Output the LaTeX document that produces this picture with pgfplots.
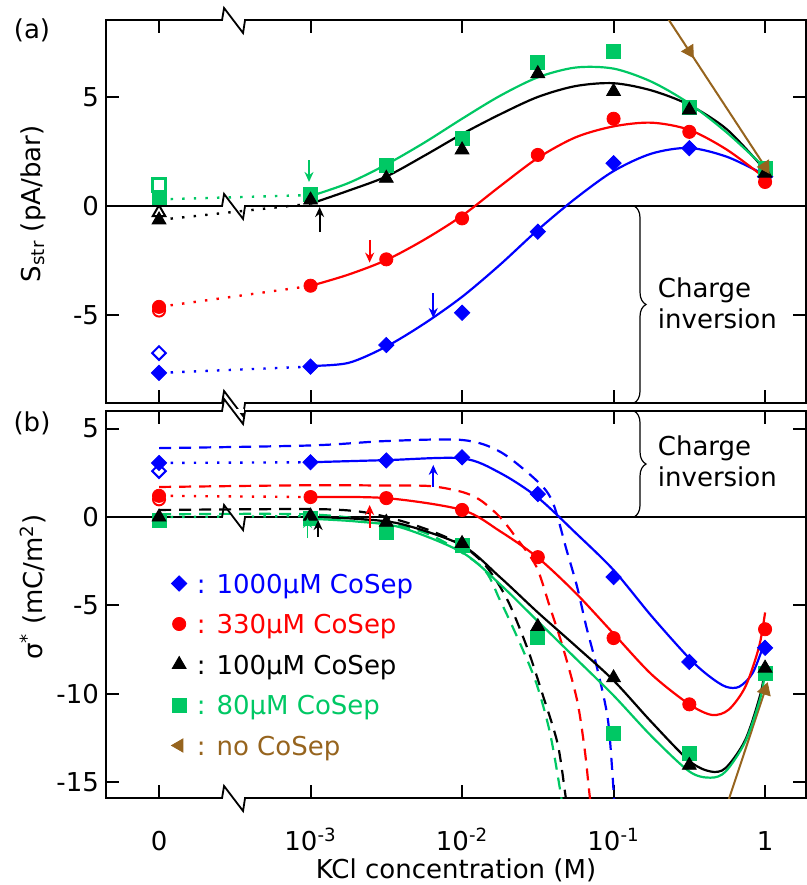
\documentclass[border=0pt]{standalone}
\usepackage{fontspec}
\setmainfont{DejaVu Sans}
\usepackage{pgfplots}
\pgfplotsset{compat=1.18}
\usetikzlibrary{arrows.meta,decorations.pathreplacing}

\definecolor{cb}{RGB}{0,0,255}
\definecolor{cr}{RGB}{255,0,0}
\definecolor{cg}{RGB}{0,200,100}
\definecolor{cn}{RGB}{150,100,30}

\newcommand{\fs}{\fontsize{13}{15.5}\selectfont}

% broken-axis mark between 0 and 10^-3
\newcommand{\brk}[1]{%
  \fill[white] (axis cs:0.416,#1) ++(0.5pt,-1.2pt) rectangle ++(10.5pt,2.4pt);
  \draw[line width=0.9pt] (axis cs:0.416,#1) -- ++(1pt,6pt) -- ++(9.5pt,-12.5pt) -- ++(1pt,6.5pt);}

\tikzset{arr/.style={-{Stealth[length=5pt,width=4.5pt]}, line width=0.9pt}}

\pgfplotsset{
  panel/.style={scale only axis, width=350pt, xmin=-0.35, xmax=4.27,
    xtick={0,1,2,3,4}, tick align=inside, major tick length=6.5pt,
    axis line style={line width=1pt}, every tick/.style={black,line width=1pt},
    tick label style={font=\fs}, label style={font=\fs},
    /pgf/number format/assume math mode=true, clip mode=individual},
  fit/.style={line width=1.1pt, smooth},
  model/.style={line width=1.1pt, smooth, dash pattern=on 6pt off 4pt},
  dots/.style={line width=1.2pt, dash pattern=on 1.2pt off 4.6pt},
  dia/.style={only marks, mark=square*, mark size=2.7pt, mark options={rotate=45}},
  odia/.style={only marks, mark=square*, mark size=2.4pt, mark options={rotate=45, fill=white, line width=1pt}},
  cir/.style={only marks, mark=*, mark size=3.3pt},
  ocir/.style={only marks, mark=*, mark size=3pt, mark options={fill=white, line width=1pt}},
  tri/.style={only marks, mark=triangle*, mark size=4pt},
  otri/.style={only marks, mark=triangle*, mark size=3.6pt, mark options={fill=white, line width=1pt}},
  sq/.style={only marks, mark=square*, mark size=3.5pt},
  osq/.style={only marks, mark=square*, mark size=3.2pt, mark options={fill=white, line width=1.6pt}},
}

\begin{document}
\begin{tikzpicture}[font=\fs]
\useasboundingbox (-53pt,-241pt) rectangle (350.5pt,201.5pt);

% ---------------- (a) ----------------
\begin{axis}[panel, at={(0,0)}, anchor=south west, height=191.5pt,
  ymin=-9.04, ymax=8.53, ytick={-5,0,5}, xticklabels={{},{},{},{},{}},
  ylabel={S\textsubscript{str} (pA/bar)},
  ylabel style={at={(axis description cs:-0.1043,0.52)}, anchor=center}]
\draw[line width=1pt] (axis cs:-0.35,0) -- (axis cs:4.27,0);

\addplot[cn, line width=1pt] coordinates {(3,12.4) (3.5,7.1) (4,1.8)};

\addplot[cb, fit] coordinates {(1,-7.34) (1.25,-7.2) (1.5,-6.45) (1.75,-5.4) (2,-4.17) (2.25,-2.7) (2.5,-1.1) (2.75,0.35) (3,1.6) (3.25,2.4) (3.5,2.66) (3.75,2.25) (4,1.42)};
\addplot[cr, fit] coordinates {(1,-3.67) (1.25,-3.15) (1.5,-2.48) (1.75,-1.55) (2,-0.45) (2.25,0.9) (2.5,2.2) (2.75,3.15) (3,3.65) (3.25,3.82) (3.5,3.49) (3.75,2.57) (4,1.28)};
\addplot[black, fit] coordinates {(1,0.1) (1.25,0.7) (1.5,1.35) (1.75,2.3) (2,3.3) (2.25,4.2) (2.5,5.0) (2.75,5.5) (3,5.63) (3.25,5.3) (3.5,4.63) (3.75,3.5) (4,1.65)};
\addplot[cg, fit] coordinates {(1,0.45) (1.25,1.05) (1.5,1.9) (1.75,2.9) (2,4.0) (2.25,5.05) (2.5,5.9) (2.75,6.35) (3,6.3) (3.25,5.7) (3.5,4.7) (3.75,3.35) (4,1.75)};

\addplot[cb, dots] coordinates {(0,-7.66) (1,-7.37)};
\addplot[cr, dots] coordinates {(0,-4.63) (1,-3.67)};
\addplot[black, dots] coordinates {(0,-0.64) (1,0.1)};
\addplot[cg, dots] coordinates {(0,0.3) (1,0.5)};

\addplot[cb, odia] coordinates {(0,-6.75)};
\addplot[cr, ocir] coordinates {(0,-4.8)};
\addplot[cg, osq] coordinates {(0,0.96)};
\addplot[black, otri] coordinates {(0,-0.3)};

\addplot[cb, dia] coordinates {(0,-7.66) (1,-7.37) (1.5,-6.38) (2,-4.9) (2.5,-1.18) (3,1.96) (3.5,2.65) (4,1.35)};
\addplot[cr, cir] coordinates {(0,-4.63) (1,-3.66) (1.5,-2.45) (2,-0.57) (2.5,2.34) (3,4.0) (3.5,3.4) (4,1.1)};
\addplot[cg, sq] coordinates {(0,0.37) (1,0.55) (1.5,1.88) (2,3.1) (2.5,6.6) (3,7.07) (3.5,4.5) (4,1.7)};
\addplot[black, tri] coordinates {(0,-0.64) (1,0.27) (1.5,1.27) (2,2.57) (2.5,6.07) (3,5.25) (3.5,4.4) (4,1.5)};
\addplot[cn, only marks, mark=triangle*, mark size=3.8pt, mark options={rotate=-148}] coordinates {(3.5,7.1) (4,1.8)};

\draw[arr, cg] (axis cs:0.99,2.1) -- (axis cs:0.99,1.1);
\draw[arr, black] (axis cs:1.06,-1.2) -- (axis cs:1.06,-0.05);
\draw[arr, cr] (axis cs:1.39,-1.56) -- (axis cs:1.39,-2.6);
\draw[arr, cb] (axis cs:1.81,-4.0) -- (axis cs:1.81,-5.14);

\draw[decorate, decoration={brace, amplitude=6pt}, line width=0.6pt] (axis cs:3.135,0) -- (axis cs:3.135,-9.04);
\node[anchor=base west, inner sep=0pt] at (axis cs:3.29,-4.22) {Charge};
\node[anchor=base west, inner sep=0pt] at (axis cs:3.29,-5.6) {inversion};

\brk{8.53}
\brk{0}
\brk{-9.04}
\end{axis}

% ---------------- (b) ----------------
\begin{axis}[panel, at={(0,-4pt)}, anchor=north west, height=193.5pt,
  ymin=-15.9, ymax=6.0, ytick={-15,-10,-5,0,5},
  xticklabels={0,10\textsuperscript{-3},10\textsuperscript{-2},10\textsuperscript{-1},1},
  xticklabel style={anchor=base, yshift=-26pt},
  xlabel={KCl concentration (M)},
  xlabel style={at={(axis description cs:0.5,0)}, anchor=base, yshift=-40pt},
  ylabel={σ\textsuperscript{*} (mC/m\textsuperscript{2})},
  ylabel style={at={(axis description cs:-0.1043,0.545)}, anchor=center},
  legend style={at={(axis cs:0.08,-3.15)}, anchor=north west, draw=none, fill=none,
    font=\fs, row sep=6.25pt, inner sep=0pt,
    nodes={inner sep=1pt, text height=9pt, text depth=3pt},
    /tikz/every odd column/.append style={column sep=4pt}},
  legend image code/.code={\draw[#1] plot coordinates {(0pt,1.8pt)};},
  legend cell align=left]

\addlegendimage{cb, mark=square*, mark size=2.7pt, mark options={rotate=45}}
\addlegendentry{\textcolor{cb}{: 1000µM CoSep}}
\addlegendimage{cr, mark=*, mark size=3.3pt}
\addlegendentry{\textcolor{cr}{: 330µM CoSep}}
\addlegendimage{black, mark=triangle*, mark size=4pt}
\addlegendentry{\textcolor{black}{: 100µM CoSep}}
\addlegendimage{cg, mark=square*, mark size=3.5pt}
\addlegendentry{\textcolor{cg}{: 80µM CoSep}}
\addlegendimage{cn, mark=triangle*, mark size=3.8pt, mark options={rotate=90}}
\addlegendentry{\textcolor{cn}{: no CoSep}}

\draw[line width=1pt] (axis cs:-0.35,0) -- (axis cs:4.27,0);

\addplot[cn, line width=1pt] coordinates {(3.5,-22.7) (4,-9.8)};

\addplot[cb, model] coordinates {(0,3.9) (1,4.05) (1.5,4.3) (2,4.36) (2.25,3.7) (2.5,2.0) (2.6,0.8) (2.69,-1.87) (2.76,-3.97) (2.82,-6.2) (2.89,-8.5) (2.96,-11.3) (2.99,-14.2) (3.01,-17)};
\addplot[cr, model] coordinates {(0,1.7) (1,1.8) (1.5,1.78) (1.79,1.75) (2,1.42) (2.12,0.96) (2.25,0) (2.36,-1.2) (2.49,-2.8) (2.58,-5.1) (2.67,-7.5) (2.76,-10.4) (2.81,-13.2) (2.84,-15.6) (2.86,-17)};
\addplot[black, model] coordinates {(0,0.4) (1,0.45) (1.33,0.3) (1.57,-0.15) (1.8,-0.8) (2.0,-1.6) (2.16,-2.8) (2.3,-4.7) (2.43,-7.4) (2.53,-10.0) (2.63,-12.8) (2.68,-15.6) (2.7,-17)};
\addplot[cg, model] coordinates {(0,0.15) (1,0.15) (1.5,-0.35) (1.8,-1.05) (2.13,-2.83) (2.25,-4.7) (2.38,-7.1) (2.49,-9.4) (2.58,-12.2) (2.65,-15.6) (2.67,-17)};

\addplot[cb, fit] coordinates {(1,3.1) (1.5,3.22) (2,3.32) (2.25,2.5) (2.5,1.1) (2.75,-0.9) (3.0,-3.0) (3.25,-5.6) (3.5,-8.0) (3.63,-9.0) (3.74,-9.6) (3.83,-9.6) (3.92,-8.8) (4,-7.0)};
\addplot[cr, fit] coordinates {(1,1.13) (1.5,1.07) (2,0.4) (2.25,-0.8) (2.5,-2.3) (2.75,-4.3) (3.0,-6.6) (3.25,-8.9) (3.5,-10.6) (3.65,-11.2) (3.76,-10.9) (3.87,-9.6) (3.96,-7.35) (4.0,-5.4)};
\addplot[black, fit] coordinates {(1,0) (1.3,-0.1) (1.6,-0.4) (2,-1.6) (2.25,-3.4) (2.5,-5.4) (2.75,-7.3) (3.0,-9.25) (3.25,-11.6) (3.5,-13.8) (3.64,-14.4) (3.74,-14.2) (3.87,-12.6) (3.97,-10.0) (4.0,-8.5)};
\addplot[cg, fit] coordinates {(1,-0.1) (1.3,-0.25) (1.6,-0.6) (2,-2.0) (2.25,-3.8) (2.5,-5.9) (2.75,-8.0) (3.0,-10.1) (3.25,-12.4) (3.5,-14.4) (3.64,-14.75) (3.74,-14.4) (3.87,-12.7) (3.97,-10.2) (4.0,-8.7)};

\addplot[cb, dots] coordinates {(0,3.06) (1,3.1)};
\addplot[cr, dots] coordinates {(0,1.2) (1,1.13)};
\addplot[cg, dots] coordinates {(0,0.0) (1,0.05)};

\addplot[cb, odia] coordinates {(0,2.6)};
\addplot[cr, ocir] coordinates {(0,1.0)};

\addplot[cb, dia] coordinates {(0,3.06) (1,3.1) (1.5,3.2) (2,3.38) (2.5,1.3) (3,-3.4) (3.5,-8.2) (4,-7.4)};
\addplot[cr, cir] coordinates {(0,1.2) (1,1.13) (1.5,1.07) (2,0.4) (2.5,-2.27) (3,-6.85) (3.5,-10.6) (4,-6.35)};
\addplot[cg, sq] coordinates {(0,-0.17) (1,-0.1) (1.5,-0.85) (2,-1.6) (2.5,-6.8) (3,-12.25) (3.5,-13.4) (4,-8.85)};
\addplot[black, tri] coordinates {(0,0) (1,0.05) (1.5,-0.3) (2,-1.5) (2.5,-6.2) (3,-9.1) (3.5,-14.05) (4,-8.55)};
\addplot[cn, only marks, mark=triangle*, mark size=3.8pt, mark options={rotate=-18}] coordinates {(4,-9.8)};

\draw[arr, cg] (axis cs:0.98,-1.19) -- (axis cs:0.98,-0.05);
\draw[arr, black] (axis cs:1.05,-1.13) -- (axis cs:1.05,-0.17);
\draw[arr, cr] (axis cs:1.39,-0.62) -- (axis cs:1.39,0.68);
\draw[arr, cb] (axis cs:1.81,1.7) -- (axis cs:1.81,2.95);

\draw[decorate, decoration={brace, amplitude=6pt}, line width=0.6pt] (axis cs:3.135,6.0) -- (axis cs:3.135,0);
\node[anchor=base west, inner sep=0pt] at (axis cs:3.29,3.46) {Charge};
\node[anchor=base west, inner sep=0pt] at (axis cs:3.29,1.7) {inversion};

\brk{6.0}
\brk{0}
\brk{-15.9}
\end{axis}

\node at (-37pt,186.5pt) {(a)};
\node at (-37pt,-10pt) {(b)};
\end{tikzpicture}
\end{document}
